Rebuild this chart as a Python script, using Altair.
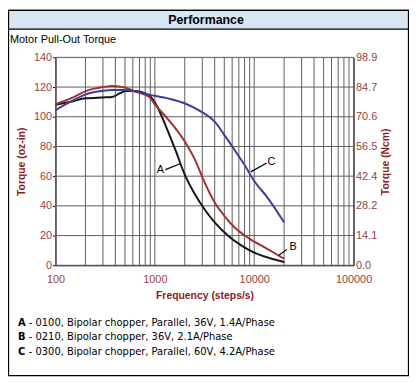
import altair as alt
import pandas as pd

# ---- data ----
FREQ_A = [100, 150, 200, 300, 370, 450, 506, 612, 872, 1015, 1276, 1605, 2000, 2530, 3070, 4000, 5430, 9000, 20000]
TORQ_A = [108, 110.5, 112.4, 113, 113.3, 116, 117.3, 117.3, 114.4, 108.9, 94.4, 77.8, 61.1, 47.8, 38.9, 28.9, 20, 10, 2.2]

FREQ_B = [100, 150, 202, 300, 372, 506, 612, 872, 1015, 1378, 2000, 2530, 3070, 4000, 5000, 6320, 9000, 12600, 20000]
TORQ_B = [108.4, 113, 117.3, 120, 120.7, 119.6, 117.3, 113.5, 107.8, 97.8, 83.3, 71.1, 57.8, 42.2, 33.3, 25.6, 17.8, 12.2, 4.4]

FREQ_C = [100, 150, 202, 300, 372, 506, 612, 872, 1378, 2016, 2950, 4000, 5000, 6320, 7950, 10000, 13600, 20000]
TORQ_C = [104.5, 111, 115.1, 117.5, 118, 118, 117.3, 114.9, 112.2, 108.9, 103.3, 96.7, 87.8, 77.8, 67.8, 56.7, 45.6, 28.9]

SERIES = ["A", "B", "C"]
COLORS = ["#151515", "#a2302f", "#3d3d9c"]

LABEL_TEXT = ["A", "B", "C"]
LABEL_FREQ = [1138, 24700, 14900]
LABEL_TORQ = [63.8, 12, 69.6]
LEADER_F1 = [1276, 17700, 9250]
LEADER_T1 = [64.4, 6.7, 62.9]
LEADER_F2 = [1800, 21400, 13350]
LEADER_T2 = [68.4, 10.7, 68.9]

Y_TICKS = [0, 20, 40, 60, 80, 100, 120, 140]
NCM_LABELS = ["0.0", "14.1", "28.2", "42.4", "56.5", "70.6", "84.7", "98.9"]
X_GRID = [100, 200, 300, 400, 500, 600, 700, 800, 900,
          1000, 2000, 3000, 4000, 5000, 6000, 7000, 8000, 9000,
          10000, 20000, 30000, 40000, 50000, 60000, 70000, 80000, 90000, 100000]
X_LABELED = [100, 1000, 10000, 100000]

HEADER = "Performance"
SUBTITLE = "Motor Pull-Out Torque"
X_TITLE = "Frequency (steps/s)"
Y_TITLE_L = "Torque (oz-in)"
Y_TITLE_R = "Torque (Ncm)"
LEGEND_KEYS = ["A", "B", "C"]
LEGEND_DESC = ["0100, Bipolar chopper, Parallel, 36V, 1.4A/Phase",
               "0210, Bipolar chopper, 36V, 2.1A/Phase",
               "0300, Bipolar chopper, Parallel, 60V, 4.2A/Phase"]

# ---- tables ----
rows = []
for s, fs, ts in zip(SERIES, [FREQ_A, FREQ_B, FREQ_C], [TORQ_A, TORQ_B, TORQ_C]):
    for i, (f, t) in enumerate(zip(fs, ts)):
        rows.append({"series": s, "freq": f, "torque": t, "order": i})
curves = pd.DataFrame(rows)
labels = pd.DataFrame({"text": LABEL_TEXT, "freq": LABEL_FREQ, "torque": LABEL_TORQ})
leaders = pd.DataFrame({"freq": LEADER_F1, "torque": LEADER_T1, "f2": LEADER_F2, "t2": LEADER_T2})
xgrid = pd.DataFrame({"freq": X_GRID})
ygrid = pd.DataFrame({"torque": Y_TICKS})
one = pd.DataFrame({"k": [0]})

NARROW = "Liberation Sans Narrow, Arial Narrow, Liberation Sans"
LABEL_COLOR = "#9a3e3e"
TITLE_COLOR = "#8c1c1c"
GRID_COLOR = "#5e5e5e"

xscale = alt.Scale(type="log", domain=[100, 100000])
yscale = alt.Scale(domain=[0, 140], nice=False)

lab_list = ",".join(str(v) for v in X_LABELED)
x_axis = alt.Axis(values=X_GRID, grid=False, ticks=False, domainColor="#000",
                  labelExpr=f"indexof([{lab_list}], datum.value) >= 0 ? '' + datum.value : ''",
                  labelFont=NARROW, labelFontSize=11, labelColor=LABEL_COLOR, labelPadding=8,
                  labelFlush=False, labelOverlap=False,
                  title=X_TITLE, titleFont=NARROW, titleFontSize=10.5, titleFontWeight="bold",
                  titleColor=TITLE_COLOR, titleY=31, titleBaseline="middle")

y_axis_left = alt.Axis(values=Y_TICKS, grid=False,
                       tickSize=3, tickColor="#000", domainColor="#000",
                       labelFont=NARROW, labelFontSize=11, labelColor=LABEL_COLOR, labelPadding=1,
                       title=Y_TITLE_L, titleFont=NARROW, titleFontSize=10.5, titleFontWeight="bold",
                       titleColor=TITLE_COLOR, titleX=-34, titleY=105, titleAngle=-90,
                       titleAlign="center", titleBaseline="middle")

tick_list = ",".join(str(v) for v in Y_TICKS)
ncm_list = ",".join(f"'{v}'" for v in NCM_LABELS)
y_axis_right = alt.Axis(orient="right", values=Y_TICKS, grid=False, ticks=False,
                        domainColor="#000",
                        labelExpr=f"[{ncm_list}][indexof([{tick_list}], datum.value)]",
                        labelFont=NARROW, labelFontSize=11, labelColor=LABEL_COLOR, labelPadding=2,
                        title=Y_TITLE_R, titleFont=NARROW, titleFontSize=10.5, titleFontWeight="bold",
                        titleColor=TITLE_COLOR, titleX=32, titleY=105, titleAngle=-90,
                        titleAlign="center", titleBaseline="middle")

X = alt.X("freq:Q", scale=xscale, axis=x_axis)
Y = alt.Y("torque:Q", scale=yscale, axis=y_axis_left)

vgrid = alt.Chart(xgrid).mark_rule(color=GRID_COLOR, strokeWidth=1).encode(x=X)
hgrid = alt.Chart(ygrid).mark_rule(color=GRID_COLOR, strokeWidth=1).encode(y=Y)

lines = alt.Chart(curves).mark_line(strokeWidth=2, interpolate="monotone").encode(
    x=X, y=Y,
    color=alt.Color("series:N", scale=alt.Scale(domain=SERIES, range=COLORS), legend=None),
    order="order:Q",
)

leader_rules = alt.Chart(leaders).mark_rule(color="#000", strokeWidth=1.2).encode(
    x=X, x2="f2:Q", y=Y, y2="t2:Q",
)

label_text = alt.Chart(labels).mark_text(font="Liberation Sans", fontSize=11, color="#000",
                                         align="center", baseline="middle").encode(
    x=X, y=Y, text="text:N",
)

plot = alt.layer(vgrid, hgrid, lines, leader_rules, label_text)

right_axis = alt.Chart(ygrid).mark_point(opacity=0).encode(
    x=X,
    y=alt.Y("torque:Q", scale=yscale, axis=y_axis_right),
)

box = alt.Chart(one).mark_rect(fillOpacity=0, stroke="#000", strokeWidth=1.3).encode(
    x=alt.value(-47.5), x2=alt.value(356.5), y=alt.value(-47.5), y2=alt.value(321.5))
header_band = alt.Chart(one).mark_rect(fill="#d7e6f5", stroke="#000", strokeWidth=1.3).encode(
    x=alt.value(-47.5), x2=alt.value(356.5), y=alt.value(-47.5), y2=alt.value(-28.5))
header_text = alt.Chart(one).mark_text(text=HEADER, font="Liberation Sans", fontSize=12.5,
                                       fontWeight="bold", color="#000", align="center",
                                       baseline="middle").encode(x=alt.value(152), y=alt.value(-38))
subtitle_text = alt.Chart(one).mark_text(text=SUBTITLE, font="Liberation Sans", fontSize=11,
                                         color="#000", align="left",
                                         baseline="middle").encode(x=alt.value(-46), y=alt.value(-18))
legend_keys = alt.Chart(one).mark_text(text=LEGEND_KEYS, font="DejaVu Sans", fontSize=10,
                                       fontWeight="bold", color="#000", align="left",
                                       baseline="middle", lineHeight=14.7).encode(
    x=alt.value(-38), y=alt.value(268))
legend_desc = alt.Chart(one).mark_text(text=["- " + d for d in LEGEND_DESC], font="DejaVu Sans",
                                       fontSize=10, color="#000", align="left",
                                       baseline="middle", lineHeight=14.7).encode(
    x=alt.value(-27), y=alt.value(268))

deco = alt.layer(box, header_band, header_text, subtitle_text, legend_keys, legend_desc)

chart = alt.layer(deco, plot, right_axis).resolve_scale(y="independent").properties(
    width=301, height=210,
    padding={"left": 48, "top": 48, "right": 56, "bottom": 112},
    autosize=alt.AutoSizeParams(type="none"),
).configure_view(stroke="#8a8a8a", strokeWidth=1).configure(background="white")

chart.save("out.html", embed_options={"renderer": "svg", "actions": False})
